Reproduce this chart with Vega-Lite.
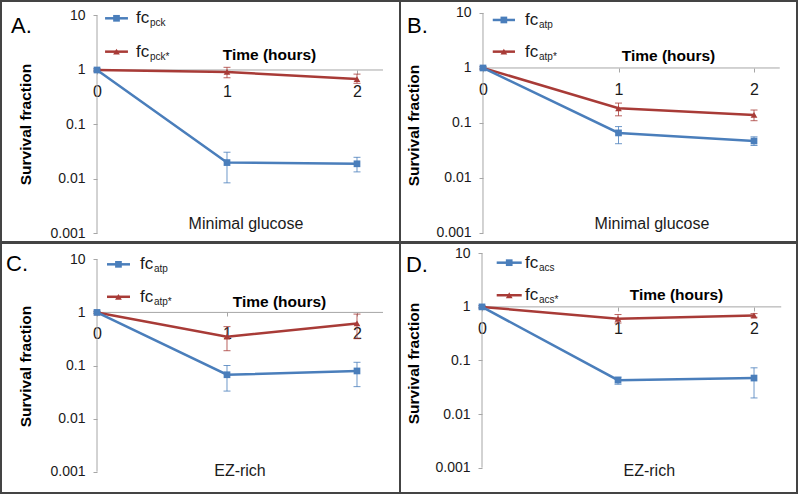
{
  "$schema": "https://vega.github.io/schema/vega-lite/v6.json",
  "padding": 0,
  "background": "white",
  "config": {
    "font": "Liberation Sans",
    "view": {"stroke": "#444444", "strokeWidth": 2},
    "concat": {"spacing": 0},
    "axis": {"domain": false, "grid": false, "ticks": true, "tickColor": "#a6a6a6", "tickSize": 4, "labelFont": "Liberation Sans", "labelColor": "#1a1a1a", "labelFontSize": 14, "labelOverlap": false, "labelFlush": false, "titleFont": "Liberation Sans", "titleFontWeight": "bold", "titleColor": "#000000", "titleFontSize": 15.5, "titleAlign": "center"},
    "axisX": {"labelFontSize": 16, "labelPadding": 9, "labelAngle": 0, "titleBaseline": "alphabetic", "titleAngle": 0, "format": "d"},
    "axisY": {"labelPadding": 8, "titleBaseline": "middle", "titleAngle": -90},
    "text": {"font": "Liberation Sans", "color": "#1a1a1a"}
  },
  "datasets": {
    "pts": [
      {"panel": "A", "series": "s2", "time": 0, "value": 1, "lo": 0.95, "hi": 1.05},
      {"panel": "A", "series": "s2", "time": 1, "value": 0.92, "lo": 0.72, "hi": 1.12},
      {"panel": "A", "series": "s2", "time": 2, "value": 0.68, "lo": 0.57, "hi": 0.84},
      {"panel": "A", "series": "s1", "time": 0, "value": 1, "lo": 0.95, "hi": 1.05},
      {"panel": "A", "series": "s1", "time": 1, "value": 0.02, "lo": 0.0085, "hi": 0.031},
      {"panel": "A", "series": "s1", "time": 2, "value": 0.019, "lo": 0.0135, "hi": 0.025},
      {"panel": "B", "series": "s2", "time": 0, "value": 1, "lo": 0.95, "hi": 1.05},
      {"panel": "B", "series": "s2", "time": 1, "value": 0.185, "lo": 0.135, "hi": 0.23},
      {"panel": "B", "series": "s2", "time": 2, "value": 0.14, "lo": 0.11, "hi": 0.172},
      {"panel": "B", "series": "s1", "time": 0, "value": 1, "lo": 0.95, "hi": 1.05},
      {"panel": "B", "series": "s1", "time": 1, "value": 0.066, "lo": 0.042, "hi": 0.086},
      {"panel": "B", "series": "s1", "time": 2, "value": 0.047, "lo": 0.039, "hi": 0.056},
      {"panel": "C", "series": "s2", "time": 0, "value": 1, "lo": 0.95, "hi": 1.05},
      {"panel": "C", "series": "s2", "time": 1, "value": 0.35, "lo": 0.19, "hi": 0.54},
      {"panel": "C", "series": "s2", "time": 2, "value": 0.62, "lo": 0.32, "hi": 0.93},
      {"panel": "C", "series": "s1", "time": 0, "value": 1, "lo": 0.95, "hi": 1.05},
      {"panel": "C", "series": "s1", "time": 1, "value": 0.067, "lo": 0.033, "hi": 0.1},
      {"panel": "C", "series": "s1", "time": 2, "value": 0.079, "lo": 0.04, "hi": 0.115},
      {"panel": "D", "series": "s2", "time": 0, "value": 1, "lo": 0.95, "hi": 1.05},
      {"panel": "D", "series": "s2", "time": 1, "value": 0.6, "lo": 0.5, "hi": 0.72},
      {"panel": "D", "series": "s2", "time": 2, "value": 0.69, "lo": 0.64, "hi": 0.75},
      {"panel": "D", "series": "s1", "time": 0, "value": 1, "lo": 0.95, "hi": 1.05},
      {"panel": "D", "series": "s1", "time": 1, "value": 0.043, "lo": 0.036, "hi": 0.049},
      {"panel": "D", "series": "s1", "time": 2, "value": 0.047, "lo": 0.02, "hi": 0.073}
    ]
  },
  "spacing": -2,
  "vconcat": [
    {
      "spacing": 0,
      "bounds": "flush",
      "hconcat": [
        {
          "width": 399, "height": 241,
          "layer": [
            {"data": {"values": [{}]}, "mark": {"type": "rule", "color": "#a6a6a6", "strokeWidth": 1}, "encoding": {"x": {"datum": 0}, "y": {"datum": 0.001}, "y2": {"datum": 10}}},
            {"data": {"values": [{}]}, "mark": {"type": "rule", "color": "#a6a6a6", "strokeWidth": 1}, "encoding": {"x": {"datum": 0}, "x2": {"datum": 2.2}, "y": {"datum": 1}}},
            {"data": {"name": "pts"}, "transform": [{"filter": "datum.panel === 'A'"}], "mark": {"type": "errorbar", "ticks": {"size": 7, "opacity": 0.8}, "rule": {"opacity": 0.8}}, "encoding": {"x": {"field": "time", "type": "quantitative", "title": "Time (hours)"}, "y": {"field": "lo", "type": "quantitative", "title": "Survival fraction"}, "y2": {"field": "hi"}, "color": {"field": "series", "type": "nominal", "scale": {"domain": ["s1", "s2"], "range": ["#4a7ebb", "#a83b37"]}, "legend": null}}},
            {"data": {"name": "pts"}, "transform": [{"filter": "datum.panel === 'A'"}], "mark": {"type": "line", "strokeWidth": 2.5},
             "encoding": {
               "x": {"field": "time", "type": "quantitative", "scale": {"domain": [-0.7385, 2.3308], "nice": false, "zero": false}, "axis": {"offset": -172, "values": [0, 1, 2], "format": "d", "title": "Time (hours)", "titleX": 268, "titleY": -11}},
               "y": {"field": "value", "type": "quantitative", "scale": {"type": "log", "domain": [0.000698, 18.45], "nice": false}, "axis": {"offset": -96, "values": [0.001, 0.01, 0.1, 1, 10], "format": "~g", "title": "Survival fraction", "titleX": -72, "titleY": 123}},
               "color": {"field": "series", "type": "nominal", "scale": {"domain": ["s1", "s2"], "range": ["#4a7ebb", "#a83b37"]}, "legend": null}}},
            {"data": {"name": "pts"}, "transform": [{"filter": "datum.panel === 'A'"}], "mark": {"type": "point", "filled": true, "size": 45, "opacity": 1}, "encoding": {"x": {"field": "time", "type": "quantitative", "title": "Time (hours)"}, "y": {"field": "value", "type": "quantitative", "title": "Survival fraction"}, "color": {"field": "series", "type": "nominal", "scale": {"domain": ["s1", "s2"], "range": ["#4a7ebb", "#a83b37"]}, "legend": null}, "shape": {"field": "series", "type": "nominal", "scale": {"domain": ["s1", "s2"], "range": ["square", "triangle-up"]}, "legend": null}}},
            {"data": {"values": [{}]}, "mark": {"type": "rule", "color": "#4a7ebb", "strokeWidth": 2.5}, "encoding": {"x": {"datum": 0.062}, "x2": {"datum": 0.238}, "y": {"datum": 8.88}}},
            {"data": {"values": [{}]}, "mark": {"type": "point", "shape": "square", "filled": true, "size": 45, "opacity": 1, "color": "#4a7ebb"}, "encoding": {"x": {"datum": 0.15}, "y": {"datum": 8.88}}},
            {"data": {"values": [{}]}, "mark": {"type": "text", "text": "fc", "align": "left", "baseline": "middle", "fontSize": 17}, "encoding": {"x": {"datum": 0.3}, "y": {"datum": 8.88}}},
            {"data": {"values": [{}]}, "mark": {"type": "text", "text": "pck", "align": "left", "baseline": "middle", "fontSize": 10, "dx": 14, "dy": 5}, "encoding": {"x": {"datum": 0.3}, "y": {"datum": 8.88}}},
            {"data": {"values": [{}]}, "mark": {"type": "rule", "color": "#a83b37", "strokeWidth": 2.5}, "encoding": {"x": {"datum": 0.062}, "x2": {"datum": 0.238}, "y": {"datum": 2.17}}},
            {"data": {"values": [{}]}, "mark": {"type": "point", "shape": "triangle-up", "filled": true, "size": 45, "opacity": 1, "color": "#a83b37"}, "encoding": {"x": {"datum": 0.15}, "y": {"datum": 2.17}}},
            {"data": {"values": [{}]}, "mark": {"type": "text", "text": "fc", "align": "left", "baseline": "middle", "fontSize": 17}, "encoding": {"x": {"datum": 0.3}, "y": {"datum": 2.17}}},
            {"data": {"values": [{}]}, "mark": {"type": "text", "text": "pck*", "align": "left", "baseline": "middle", "fontSize": 10, "dx": 14, "dy": 5}, "encoding": {"x": {"datum": 0.3}, "y": {"datum": 2.17}}},
            {"data": {"values": [{}]}, "mark": {"type": "text", "text": "Minimal glucose", "align": "center", "baseline": "alphabetic", "fontSize": 16}, "encoding": {"x": {"datum": 1.146}, "y": {"datum": 0.00121}}},
            {"data": {"values": [{}]}, "mark": {"type": "text", "text": "A.", "align": "left", "baseline": "alphabetic", "fontSize": 22, "color": "#000000"}, "encoding": {"x": {"datum": -0.6615}, "y": {"datum": 4.77}}}
          ]
        },
        {
          "width": 397, "height": 241,
          "layer": [
            {"data": {"values": [{}]}, "mark": {"type": "rule", "color": "#a6a6a6", "strokeWidth": 1}, "encoding": {"x": {"datum": 0}, "y": {"datum": 0.001}, "y2": {"datum": 10}}},
            {"data": {"values": [{}]}, "mark": {"type": "rule", "color": "#a6a6a6", "strokeWidth": 1}, "encoding": {"x": {"datum": 0}, "x2": {"datum": 2.19}, "y": {"datum": 1}}},
            {"data": {"name": "pts"}, "transform": [{"filter": "datum.panel === 'B'"}], "mark": {"type": "errorbar", "ticks": {"size": 7, "opacity": 0.8}, "rule": {"opacity": 0.8}}, "encoding": {"x": {"field": "time", "type": "quantitative", "title": "Time (hours)"}, "y": {"field": "lo", "type": "quantitative", "title": "Survival fraction"}, "y2": {"field": "hi"}, "color": {"field": "series", "type": "nominal", "scale": {"domain": ["s1", "s2"], "range": ["#4a7ebb", "#a83b37"]}, "legend": null}}},
            {"data": {"name": "pts"}, "transform": [{"filter": "datum.panel === 'B'"}], "mark": {"type": "line", "strokeWidth": 2.5},
             "encoding": {
               "x": {"field": "time", "type": "quantitative", "scale": {"domain": [-0.6125, 2.3173], "nice": false, "zero": false}, "axis": {"offset": -174, "values": [0, 1, 2], "format": "d", "title": "Time (hours)", "titleX": 268, "titleY": -8}},
               "y": {"field": "value", "type": "quantitative", "scale": {"type": "log", "domain": [0.000686, 16.5], "nice": false}, "axis": {"offset": -83, "values": [0.001, 0.01, 0.1, 1, 10], "format": "~g", "title": "Survival fraction", "titleX": -70, "titleY": 124}},
               "color": {"field": "series", "type": "nominal", "scale": {"domain": ["s1", "s2"], "range": ["#4a7ebb", "#a83b37"]}, "legend": null}}},
            {"data": {"name": "pts"}, "transform": [{"filter": "datum.panel === 'B'"}], "mark": {"type": "point", "filled": true, "size": 45, "opacity": 1}, "encoding": {"x": {"field": "time", "type": "quantitative", "title": "Time (hours)"}, "y": {"field": "value", "type": "quantitative", "title": "Survival fraction"}, "color": {"field": "series", "type": "nominal", "scale": {"domain": ["s1", "s2"], "range": ["#4a7ebb", "#a83b37"]}, "legend": null}, "shape": {"field": "series", "type": "nominal", "scale": {"domain": ["s1", "s2"], "range": ["square", "triangle-up"]}, "legend": null}}},
            {"data": {"values": [{}]}, "mark": {"type": "rule", "color": "#4a7ebb", "strokeWidth": 2.5}, "encoding": {"x": {"datum": 0.072}, "x2": {"datum": 0.236}, "y": {"datum": 7.46}}},
            {"data": {"values": [{}]}, "mark": {"type": "point", "shape": "square", "filled": true, "size": 45, "opacity": 1, "color": "#4a7ebb"}, "encoding": {"x": {"datum": 0.154}, "y": {"datum": 7.46}}},
            {"data": {"values": [{}]}, "mark": {"type": "text", "text": "fc", "align": "left", "baseline": "middle", "fontSize": 17}, "encoding": {"x": {"datum": 0.31}, "y": {"datum": 7.46}}},
            {"data": {"values": [{}]}, "mark": {"type": "text", "text": "atp", "align": "left", "baseline": "middle", "fontSize": 10, "dx": 14, "dy": 5}, "encoding": {"x": {"datum": 0.31}, "y": {"datum": 7.46}}},
            {"data": {"values": [{}]}, "mark": {"type": "rule", "color": "#a83b37", "strokeWidth": 2.5}, "encoding": {"x": {"datum": 0.072}, "x2": {"datum": 0.236}, "y": {"datum": 1.98}}},
            {"data": {"values": [{}]}, "mark": {"type": "point", "shape": "triangle-up", "filled": true, "size": 45, "opacity": 1, "color": "#a83b37"}, "encoding": {"x": {"datum": 0.154}, "y": {"datum": 1.98}}},
            {"data": {"values": [{}]}, "mark": {"type": "text", "text": "fc", "align": "left", "baseline": "middle", "fontSize": 17}, "encoding": {"x": {"datum": 0.31}, "y": {"datum": 1.98}}},
            {"data": {"values": [{}]}, "mark": {"type": "text", "text": "atp*", "align": "left", "baseline": "middle", "fontSize": 10, "dx": 14, "dy": 5}, "encoding": {"x": {"datum": 0.31}, "y": {"datum": 1.98}}},
            {"data": {"values": [{}]}, "mark": {"type": "text", "text": "Minimal glucose", "align": "center", "baseline": "alphabetic", "fontSize": 16}, "encoding": {"x": {"datum": 1.247}, "y": {"datum": 0.00118}}},
            {"data": {"values": [{}]}, "mark": {"type": "text", "text": "B.", "align": "left", "baseline": "alphabetic", "fontSize": 22, "color": "#000000"}, "encoding": {"x": {"datum": -0.561}, "y": {"datum": 4.33}}}
          ]
        }
      ]
    },
    {
      "spacing": 0,
      "bounds": "flush",
      "hconcat": [
        {
          "width": 399, "height": 250,
          "layer": [
            {"data": {"values": [{}]}, "mark": {"type": "rule", "color": "#a6a6a6", "strokeWidth": 1}, "encoding": {"x": {"datum": 0}, "y": {"datum": 0.001}, "y2": {"datum": 10}}},
            {"data": {"values": [{}]}, "mark": {"type": "rule", "color": "#a6a6a6", "strokeWidth": 1}, "encoding": {"x": {"datum": 0}, "x2": {"datum": 2.2}, "y": {"datum": 1}}},
            {"data": {"name": "pts"}, "transform": [{"filter": "datum.panel === 'C'"}], "mark": {"type": "errorbar", "ticks": {"size": 7, "opacity": 0.8}, "rule": {"opacity": 0.8}}, "encoding": {"x": {"field": "time", "type": "quantitative", "title": "Time (hours)"}, "y": {"field": "lo", "type": "quantitative", "title": "Survival fraction"}, "y2": {"field": "hi"}, "color": {"field": "series", "type": "nominal", "scale": {"domain": ["s1", "s2"], "range": ["#4a7ebb", "#a83b37"]}, "legend": null}}},
            {"data": {"name": "pts"}, "transform": [{"filter": "datum.panel === 'C'"}], "mark": {"type": "line", "strokeWidth": 2.5},
             "encoding": {
               "x": {"field": "time", "type": "quantitative", "scale": {"domain": [-0.7385, 2.3308], "nice": false, "zero": false}, "axis": {"offset": -181, "values": [0, 1, 2], "format": "d", "title": "Time (hours)", "titleX": 278, "titleY": -6}},
               "y": {"field": "value", "type": "quantitative", "scale": {"type": "log", "domain": [0.000397, 20.3], "nice": false}, "axis": {"offset": -96, "values": [0.001, 0.01, 0.1, 1, 10], "format": "~g", "title": "Survival fraction", "titleX": -72, "titleY": 123}},
               "color": {"field": "series", "type": "nominal", "scale": {"domain": ["s1", "s2"], "range": ["#4a7ebb", "#a83b37"]}, "legend": null}}},
            {"data": {"name": "pts"}, "transform": [{"filter": "datum.panel === 'C'"}], "mark": {"type": "point", "filled": true, "size": 45, "opacity": 1}, "encoding": {"x": {"field": "time", "type": "quantitative", "title": "Time (hours)"}, "y": {"field": "value", "type": "quantitative", "title": "Survival fraction"}, "color": {"field": "series", "type": "nominal", "scale": {"domain": ["s1", "s2"], "range": ["#4a7ebb", "#a83b37"]}, "legend": null}, "shape": {"field": "series", "type": "nominal", "scale": {"domain": ["s1", "s2"], "range": ["square", "triangle-up"]}, "legend": null}}},
            {"data": {"values": [{}]}, "mark": {"type": "rule", "color": "#4a7ebb", "strokeWidth": 2.5}, "encoding": {"x": {"datum": 0.077}, "x2": {"datum": 0.254}, "y": {"datum": 8.05}}},
            {"data": {"values": [{}]}, "mark": {"type": "point", "shape": "square", "filled": true, "size": 45, "opacity": 1, "color": "#4a7ebb"}, "encoding": {"x": {"datum": 0.165}, "y": {"datum": 8.05}}},
            {"data": {"values": [{}]}, "mark": {"type": "text", "text": "fc", "align": "left", "baseline": "middle", "fontSize": 17}, "encoding": {"x": {"datum": 0.33}, "y": {"datum": 8.05}}},
            {"data": {"values": [{}]}, "mark": {"type": "text", "text": "atp", "align": "left", "baseline": "middle", "fontSize": 10, "dx": 14, "dy": 5}, "encoding": {"x": {"datum": 0.33}, "y": {"datum": 8.05}}},
            {"data": {"values": [{}]}, "mark": {"type": "rule", "color": "#a83b37", "strokeWidth": 2.5}, "encoding": {"x": {"datum": 0.077}, "x2": {"datum": 0.254}, "y": {"datum": 1.97}}},
            {"data": {"values": [{}]}, "mark": {"type": "point", "shape": "triangle-up", "filled": true, "size": 45, "opacity": 1, "color": "#a83b37"}, "encoding": {"x": {"datum": 0.165}, "y": {"datum": 1.97}}},
            {"data": {"values": [{}]}, "mark": {"type": "text", "text": "fc", "align": "left", "baseline": "middle", "fontSize": 17}, "encoding": {"x": {"datum": 0.33}, "y": {"datum": 1.97}}},
            {"data": {"values": [{}]}, "mark": {"type": "text", "text": "atp*", "align": "left", "baseline": "middle", "fontSize": 10, "dx": 14, "dy": 5}, "encoding": {"x": {"datum": 0.33}, "y": {"datum": 1.97}}},
            {"data": {"values": [{}]}, "mark": {"type": "text", "text": "EZ-rich", "align": "center", "baseline": "alphabetic", "fontSize": 16}, "encoding": {"x": {"datum": 1.1}, "y": {"datum": 0.00083}}},
            {"data": {"values": [{}]}, "mark": {"type": "text", "text": "C.", "align": "left", "baseline": "alphabetic", "fontSize": 22, "color": "#000000"}, "encoding": {"x": {"datum": -0.7}, "y": {"datum": 6.02}}}
          ]
        },
        {
          "width": 397, "height": 250,
          "layer": [
            {"data": {"values": [{}]}, "mark": {"type": "rule", "color": "#a6a6a6", "strokeWidth": 1}, "encoding": {"x": {"datum": 0}, "y": {"datum": 0.001}, "y2": {"datum": 10}}},
            {"data": {"values": [{}]}, "mark": {"type": "rule", "color": "#a6a6a6", "strokeWidth": 1}, "encoding": {"x": {"datum": 0}, "x2": {"datum": 2.2}, "y": {"datum": 1}}},
            {"data": {"name": "pts"}, "transform": [{"filter": "datum.panel === 'D'"}], "mark": {"type": "errorbar", "ticks": {"size": 7, "opacity": 0.8}, "rule": {"opacity": 0.8}}, "encoding": {"x": {"field": "time", "type": "quantitative", "title": "Time (hours)"}, "y": {"field": "lo", "type": "quantitative", "title": "Survival fraction"}, "y2": {"field": "hi"}, "color": {"field": "series", "type": "nominal", "scale": {"domain": ["s1", "s2"], "range": ["#4a7ebb", "#a83b37"]}, "legend": null}}},
            {"data": {"name": "pts"}, "transform": [{"filter": "datum.panel === 'D'"}], "mark": {"type": "line", "strokeWidth": 2.5},
             "encoding": {
               "x": {"field": "time", "type": "quantitative", "scale": {"domain": [-0.603, 2.316], "nice": false, "zero": false}, "axis": {"offset": -186, "values": [0, 1, 2], "format": "d", "title": "Time (hours)", "titleX": 276, "titleY": -8}},
               "y": {"field": "value", "type": "quantitative", "scale": {"type": "log", "domain": [0.000337, 15.56], "nice": false}, "axis": {"offset": -82, "values": [0.001, 0.01, 0.1, 1, 10], "format": "~g", "title": "Survival fraction", "titleX": -69, "titleY": 120}},
               "color": {"field": "series", "type": "nominal", "scale": {"domain": ["s1", "s2"], "range": ["#4a7ebb", "#a83b37"]}, "legend": null}}},
            {"data": {"name": "pts"}, "transform": [{"filter": "datum.panel === 'D'"}], "mark": {"type": "point", "filled": true, "size": 45, "opacity": 1}, "encoding": {"x": {"field": "time", "type": "quantitative", "title": "Time (hours)"}, "y": {"field": "value", "type": "quantitative", "title": "Survival fraction"}, "color": {"field": "series", "type": "nominal", "scale": {"domain": ["s1", "s2"], "range": ["#4a7ebb", "#a83b37"]}, "legend": null}, "shape": {"field": "series", "type": "nominal", "scale": {"domain": ["s1", "s2"], "range": ["square", "triangle-up"]}, "legend": null}}},
            {"data": {"values": [{}]}, "mark": {"type": "rule", "color": "#4a7ebb", "strokeWidth": 2.5}, "encoding": {"x": {"datum": 0.108}, "x2": {"datum": 0.292}, "y": {"datum": 6.68}}},
            {"data": {"values": [{}]}, "mark": {"type": "point", "shape": "square", "filled": true, "size": 45, "opacity": 1, "color": "#4a7ebb"}, "encoding": {"x": {"datum": 0.2}, "y": {"datum": 6.68}}},
            {"data": {"values": [{}]}, "mark": {"type": "text", "text": "fc", "align": "left", "baseline": "middle", "fontSize": 17}, "encoding": {"x": {"datum": 0.316}, "y": {"datum": 6.68}}},
            {"data": {"values": [{}]}, "mark": {"type": "text", "text": "acs", "align": "left", "baseline": "middle", "fontSize": 10, "dx": 14, "dy": 5}, "encoding": {"x": {"datum": 0.316}, "y": {"datum": 6.68}}},
            {"data": {"values": [{}]}, "mark": {"type": "rule", "color": "#a83b37", "strokeWidth": 2.5}, "encoding": {"x": {"datum": 0.108}, "x2": {"datum": 0.292}, "y": {"datum": 1.65}}},
            {"data": {"values": [{}]}, "mark": {"type": "point", "shape": "triangle-up", "filled": true, "size": 45, "opacity": 1, "color": "#a83b37"}, "encoding": {"x": {"datum": 0.2}, "y": {"datum": 1.65}}},
            {"data": {"values": [{}]}, "mark": {"type": "text", "text": "fc", "align": "left", "baseline": "middle", "fontSize": 17}, "encoding": {"x": {"datum": 0.316}, "y": {"datum": 1.65}}},
            {"data": {"values": [{}]}, "mark": {"type": "text", "text": "acs*", "align": "left", "baseline": "middle", "fontSize": 10, "dx": 14, "dy": 5}, "encoding": {"x": {"datum": 0.316}, "y": {"datum": 1.65}}},
            {"data": {"values": [{}]}, "mark": {"type": "text", "text": "EZ-rich", "align": "center", "baseline": "alphabetic", "fontSize": 16}, "encoding": {"x": {"datum": 1.23}, "y": {"datum": 0.0007}}},
            {"data": {"values": [{}]}, "mark": {"type": "text", "text": "D.", "align": "left", "baseline": "alphabetic", "fontSize": 22, "color": "#000000"}, "encoding": {"x": {"datum": -0.559}, "y": {"datum": 4.48}}}
          ]
        }
      ]
    }
  ]
}
